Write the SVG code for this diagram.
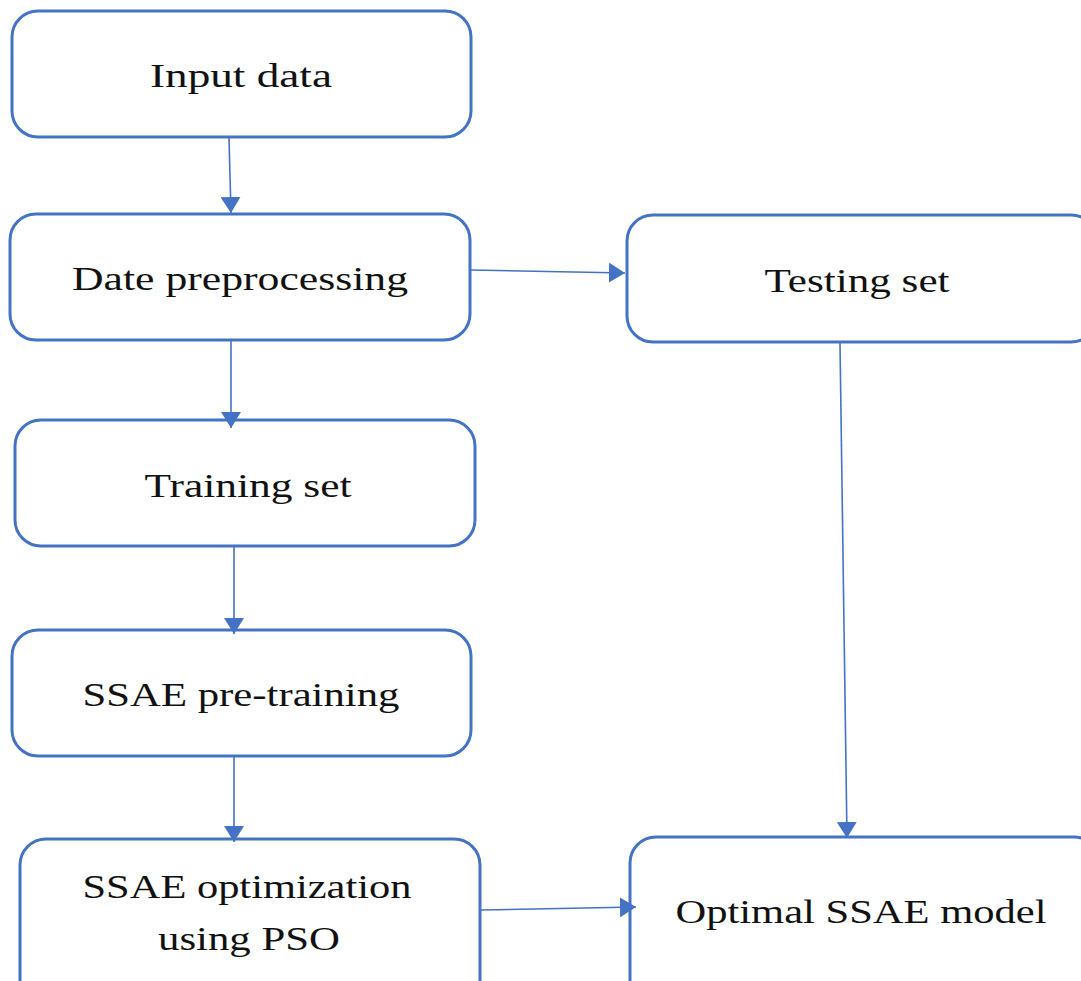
<svg xmlns="http://www.w3.org/2000/svg" width="1081" height="981" viewBox="0 0 1081 981">
<style>
.box{fill:#fff;stroke:#4472C4;stroke-width:3}
.lbl{font-family:"Liberation Serif",serif;font-size:33px;fill:#111;text-anchor:middle}
.conn{stroke:#4472C4;stroke-width:1.6;fill:none;marker-end:url(#ah)}
</style>
<defs>
<marker id="ah" viewBox="0 0 16 20" refX="16" refY="10" markerWidth="16" markerHeight="20" markerUnits="userSpaceOnUse" orient="auto">
<path d="M0,0 L16,10 L0,20 z" fill="#4472C4"/>
</marker>
</defs>
<rect width="1081" height="981" fill="#fff"/>
<g id="input"><rect class="box" x="12" y="11" width="459" height="126" rx="26"/><text class="lbl" x="241" y="87" textLength="182" lengthAdjust="spacingAndGlyphs">Input data</text></g>
<g id="preproc"><rect class="box" x="10" y="214" width="460" height="126" rx="26"/><text class="lbl" x="240" y="290" textLength="336" lengthAdjust="spacingAndGlyphs">Date preprocessing</text></g>
<g id="testing"><rect class="box" x="627" y="215" width="470" height="127" rx="26"/><text class="lbl" x="857" y="292" textLength="185" lengthAdjust="spacingAndGlyphs">Testing set</text></g>
<g id="training"><rect class="box" x="15" y="420" width="460" height="126" rx="26"/><text class="lbl" x="248" y="497" textLength="207" lengthAdjust="spacingAndGlyphs">Training set</text></g>
<g id="pretrain"><rect class="box" x="12" y="630" width="459" height="126" rx="26"/><text class="lbl" x="241" y="706" textLength="317" lengthAdjust="spacingAndGlyphs">SSAE pre-training</text></g>
<g id="optim"><rect class="box" x="20" y="839" width="460" height="170" rx="26"/><text class="lbl" x="247" y="898" textLength="329" lengthAdjust="spacingAndGlyphs">SSAE optimization</text><text class="lbl" x="249" y="950" textLength="182" lengthAdjust="spacingAndGlyphs">using PSO</text></g>
<g id="optimal"><rect class="box" x="630" y="837" width="470" height="170" rx="26"/><text class="lbl" x="861" y="923" textLength="371" lengthAdjust="spacingAndGlyphs">Optimal SSAE model</text></g>
<g id="connectors">
<line class="conn" x1="229" y1="138" x2="231" y2="213"/>
<line class="conn" x1="471" y1="270" x2="625" y2="273"/>
<line class="conn" x1="231" y1="341" x2="231" y2="428"/>
<line class="conn" x1="234" y1="547" x2="234" y2="634"/>
<line class="conn" x1="234" y1="757" x2="234" y2="842"/>
<line class="conn" x1="840" y1="343" x2="847" y2="838"/>
<line class="conn" x1="481" y1="910" x2="636" y2="907"/>
</g>
</svg>
